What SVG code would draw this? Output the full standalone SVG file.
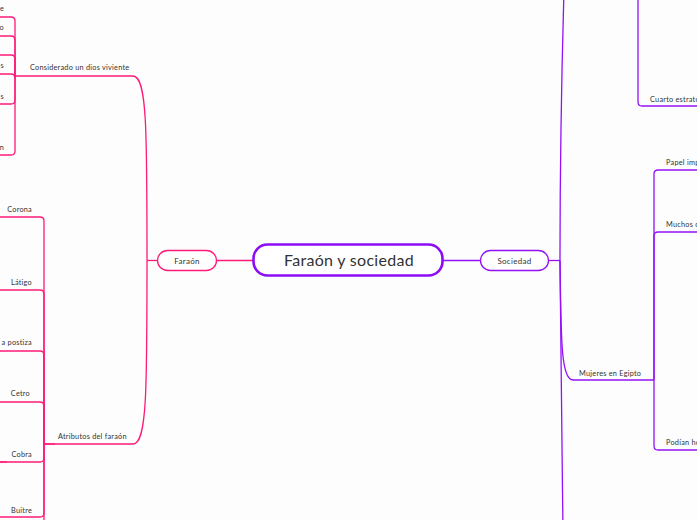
<svg xmlns="http://www.w3.org/2000/svg" width="697" height="520" viewBox="0 0 697 520">
<style>
text{font-family:"Lato","Noto Sans","Liberation Sans",sans-serif;fill:#333}
.s{font-size:7.3px;letter-spacing:0.25px}
.p{fill:none;stroke:#ff1a78;stroke-width:1.3}
.v{fill:none;stroke:#9412f5;stroke-width:1.3}
.pn{fill:#fff;stroke:#ff1a78;stroke-width:1.3}
.vn{fill:#fff;stroke:#9412f5;stroke-width:1.3}
</style>
<rect width="697" height="520" fill="#fdfdfd"/>
<g id="connectors">
<path class="p" d="M217,260.5H253"/>
<path class="p" d="M157,260.5H147"/>
<path class="p" d="M147,260.5C147,130 147,76 133,76H15"/>
<path class="p" d="M147,260.5C147,390 147,444 133,444H44"/>
<path class="p" stroke-width="2.2" d="M44,444H55"/>
<path class="p" d="M15,76V21Q15,17 11,17H0"/>
<path class="p" d="M15,76V40Q15,36 11,36H0"/>
<path class="p" d="M15,76V59Q15,55 11,55H0"/>
<path class="p" d="M15,76V78Q15,74 11,74H0"/>
<path class="p" d="M15,76V100Q15,104 11,104H0"/>
<path class="p" d="M15,76V151Q15,155 11,155H0"/>
<path class="p" d="M44,444V221Q44,217 40,217H0"/>
<path class="p" d="M44,444V294Q44,290 40,290H0"/>
<path class="p" d="M44,444V355Q44,351 40,351H0"/>
<path class="p" d="M44,444V406Q44,402 40,402H0"/>
<path class="p" d="M44,444V458Q44,462 40,462H0"/>
<path class="p" stroke-width="2.2" d="M0,462H7"/>
<path class="p" d="M44,444V513Q44,517 40,517H0"/>
<path class="p" d="M44,444V520"/>
<path class="v" d="M443,260.5H480"/>
<path class="v" d="M549,260.5H560"/>
<path class="v" d="M560,260.5C560,160 562,60 564,-10"/>
<path class="v" d="M560,260.5C561,340 561,380 573,380H654"/>
<path class="v" d="M560,260.5C561,380 562,450 563,530"/>
<path class="v" d="M654,380V174Q654,170 658,170H697"/>
<path class="v" d="M654,380V236Q654,232 658,232H697"/>
<path class="v" d="M654,380V446Q654,450 658,450H697"/>
<path class="v" d="M638,0V102Q638,106 642,106H697"/>
</g>
<g id="center">
<rect x="253.5" y="244.5" width="189" height="31" rx="14" fill="#fff" stroke="#8c0cf5" stroke-width="2.6"/>
<text x="349" y="266" font-size="16" letter-spacing="0.3" text-anchor="middle">Faraón y sociedad</text>
</g>
<g id="faraon">
<rect class="pn" x="157.5" y="250.5" width="59" height="20" rx="10"/>
<text x="187" y="263.5" font-size="8" letter-spacing="0.3" text-anchor="middle">Faraón</text>
</g>
<g id="sociedad">
<rect class="vn" x="480.5" y="250.5" width="68" height="20" rx="10"/>
<text x="514.5" y="263.5" font-size="8" letter-spacing="0.3" text-anchor="middle">Sociedad</text>
</g>
<g id="considerado"><text class="s" x="30" y="70">Considerado un dios viviente</text></g>
<g id="atributos"><text class="s" x="58" y="439">Atributos del faraón</text></g>
<g id="c1"><text class="s" x="4" y="11" text-anchor="end">e</text></g>
<g id="c2"><text class="s" x="4" y="30" text-anchor="end">o</text></g>
<g id="c3"><text class="s" x="4" y="68" text-anchor="end">s</text></g>
<g id="c4"><text class="s" x="4" y="99" text-anchor="end">s</text></g>
<g id="c5"><text class="s" x="4" y="150" text-anchor="end">n</text></g>
<g id="corona"><text class="s" x="32" y="212" text-anchor="end">Corona</text></g>
<g id="latigo"><text class="s" x="32" y="285" text-anchor="end">Látigo</text></g>
<g id="barba"><text class="s" x="32" y="345" text-anchor="end">a postiza</text></g>
<g id="cetro"><text class="s" x="30" y="396" text-anchor="end">Cetro</text></g>
<g id="cobra"><text class="s" x="32" y="457" text-anchor="end">Cobra</text></g>
<g id="buitre"><text class="s" x="32" y="513" text-anchor="end">Buitre</text></g>
<g id="mujeres"><text class="s" x="579" y="376">Mujeres en Egipto</text></g>
<g id="cuarto"><text class="s" x="650" y="102">Cuarto estrato</text></g>
<g id="papel"><text class="s" x="666" y="165">Papel imp</text></g>
<g id="muchos"><text class="s" x="666" y="227">Muchos d</text></g>
<g id="podian"><text class="s" x="666" y="445">Podían ho</text></g>
</svg>
